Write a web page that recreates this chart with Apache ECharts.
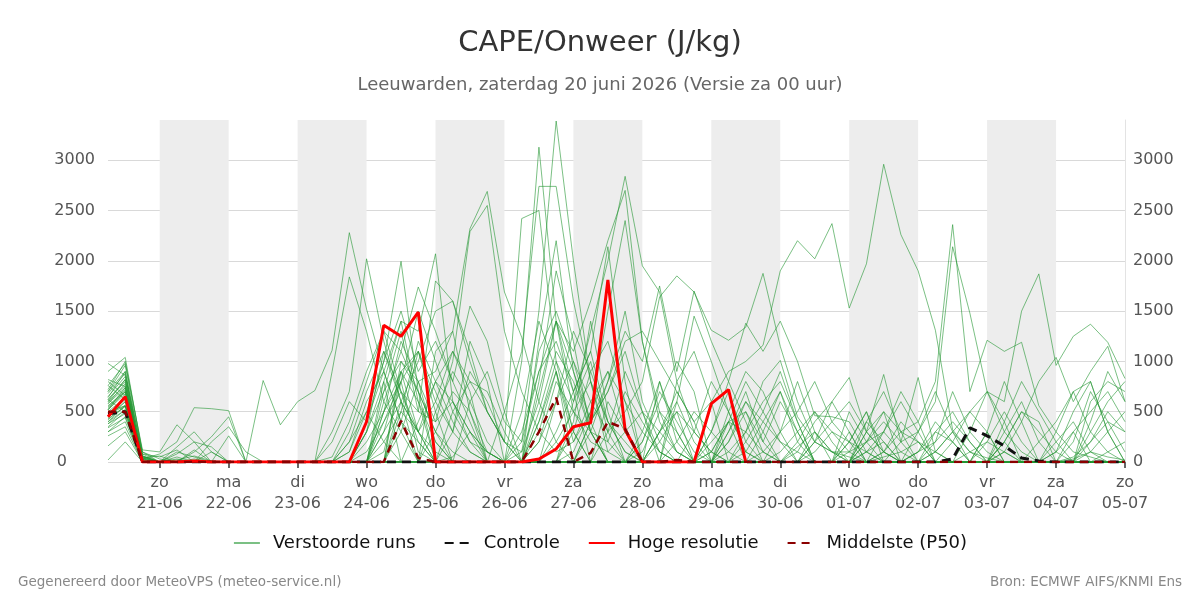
<!DOCTYPE html>
<html>
<head>
<meta charset="utf-8">
<title>CAPE/Onweer</title>
<script src="https://cdn.jsdelivr.net/npm/echarts@6/dist/echarts.min.js"></script>
<style>
  html, body { margin: 0; padding: 0; background: #fff; }
  #main { width: 1200px; height: 600px; }
</style>
</head>
<body>
<div id="main"></div>
<script>
// tijdstappen: elke 6 uur vanaf za 20-06 06:00 t/m zo 05-07 00:00 (60 stappen)
var tickLabels = ['zo\n21-06', 'ma\n22-06', 'di\n23-06', 'wo\n24-06', 'do\n25-06', 'vr\n26-06', 'za\n27-06',
    'zo\n28-06', 'ma\n29-06', 'di\n30-06', 'wo\n01-07', 'do\n02-07', 'vr\n03-07', 'za\n04-07', 'zo\n05-07'];
var times = [];
for (var i = 0; i < 60; i++) {
    var d = new Date(Date.UTC(2026, 5, 20, 6) + i * 6 * 3600 * 1000);
    times.push(('0' + d.getUTCDate()).slice(-2) + '-' + ('0' + (d.getUTCMonth() + 1)).slice(-2) + ' ' + ('0' + d.getUTCHours()).slice(-2));
}

// hoge resolutie (loopt tot 29-06 12:00)
var hires = [450,650,0, 0,0,10,0, 0,0,0,0, 0,0,0,0, 400,1360,1250,1490, 0,0,0,0, 0,0,30,130, 350,390,1810,320, 0,0,0,0, 580,720,0];
var control = [480,500,0, 0,0,0,0, 0,0,0,0, 0,0,0,0, 0,0,0,0, 0,0,0,0, 0,0,0,0, 0,0,0,0, 0,0,0,0, 0,0,0,0, 0,0,0,0, 0,0,0,0, 0,0,30,340, 260,160,40,10, 0,0,0,0, 0];
var median = [500,500,0, 0,0,0,0, 0,0,0,0, 0,0,0,0, 0,0,410,40, 0,0,0,0, 0,0,300,640, 0,90,400,330, 0,0,20,0, 0,0,0,0, 0,0,0,0, 0,0,0,0, 0,0,0,0, 0,0,0,0, 0,0,0,0, 0];

// verstoorde runs (ensemble leden)
var runs = [
    [620,800,40, 0,20,60,10, 0,0,0,0, 0,0,50,400, 900,1300,700,300, 600,1100,800,500, 200,100,600,1400, 900,400,700,1200, 1300,1000,700,400, 600,900,1000,1160, 1900,2200,2020,2370, 1530,1970,2960,2260, 1900,1310,320,100, 40,0,0,10, 0,30,100,50, 20],
    [450,600,0, 0,0,0,0, 0,0,0,0, 0,0,0,100, 500,200,0,0, 0,50,300,0, 0,0,200,800, 500,200,100,300, 500,300,100,0, 0,100,300,800, 1010,450,200,100, 50,0,100,300, 400,800,2360,700, 1210,1100,1190,560, 300,100,50,0, 0],
    [380,520,20, 0,0,30,0, 0,0,0,0, 0,0,0,0, 0,300,900,600, 200,0,0,0, 0,0,0,300, 700,1100,400,100, 0,0,200,500, 300,100,0,0, 0,0,200,400, 600,300,100,0, 0,100,300,500, 700,600,1500,1870, 960,1250,1370,1190, 830],
    [700,900,60, 0,100,50,0, 0,0,0,0, 0,0,0,0, 300,700,1000,800, 400,600,200,0, 0,0,0,0, 100,500,900,600, 300,100,0,0, 0,0,0,100, 300,500,800,400, 200,100,0,200, 300,600,2140,1480, 700,300,100,0, 0,0,0,100, 200],
    [560,700,80, 50,120,0,0, 0,0,0,0, 0,0,0,0, 0,200,500,1200, 800,400,100,0, 0,100,1100,1500, 1000,600,300,500, 800,1640,1850,1690, 1310,1210,1340,1875, 1150,600,200,100, 0,0,50,100, 200,100,0,0, 0,0,0,0, 100,300,500,700, 400],
    [480,620,40, 0,0,0,0, 0,0,0,0, 0,0,0,200, 700,1100,600,300, 100,0,0,0, 0,0,400,1000, 600,1300,2000,2840, 1950,1690,800,300, 100,0,0,0, 0,150,300,100, 100,200,300,100, 0,0,0,0, 0,0,0,0, 0,50,200,400, 300],
    [650,850,100, 0,80,200,150, 0,0,0,0, 0,0,200,600, 400,900,1400,1300, 2070,600,300,100, 0,0,0,200, 500,800,400,100, 0,0,0,0, 200,400,300,100, 0,0,0,0, 0,100,200,0, 0,0,0,0, 0,200,500,300, 100,0,0,0, 0],
    [520,680,30, 0,30,0,0, 0,0,0,0, 0,0,0,0, 0,0,300,800, 900,1300,2320,2690, 1690,1240,600,200, 0,0,0,0, 0,200,500,300, 100,0,0,0, 0,0,100,300, 200,0,0,0, 0,0,0,100, 200,100,0,0, 0,0,0,0, 0],
    [600,760,50, 0,0,0,0, 0,0,0,0, 0,0,0,0, 100,400,700,500, 400,1000,2290,2550, 1300,700,300,100, 200,500,1500,2400, 1200,500,100,0, 0,0,0,0, 0,0,0,0, 0,0,0,0, 100,300,200,0, 0,0,0,0, 0,0,100,300, 500],
    [400,560,20, 0,150,300,100, 0,0,0,0, 0,0,0,0, 200,500,900,1100, 600,300,100,0, 500,1100,2740,2740, 1600,800,200,0, 0,0,0,0, 0,300,600,400, 200,0,0,0, 0,0,0,0, 100,200,400,200, 0,0,0,0, 0,0,0,0, 0],
    [540,700,0, 0,0,0,0, 0,0,0,0, 0,0,0,0, 0,100,800,1500, 1000,500,200,100, 0,200,1500,3390, 2000,800,100,0, 0,0,0,0, 0,0,0,0, 100,300,500,200, 0,0,0,0, 0,0,0,0, 0,0,0,0, 0,0,0,0, 0],
    [580,740,60, 0,0,120,0, 260,0,0,0, 0,0,0,0, 0,600,1100,700, 300,100,0,0, 0,1000,3130,1400, 500,300,200,700, 400,100,0,0, 100,400,800,500, 200,100,0,0, 0,0,0,0, 0,0,0,0, 0,0,0,0, 0,0,0,0, 0],
    [300,400,0, 0,0,0,0, 0,0,810,370, 600,710,1110,2280, 1520,900,400,200, 0,0,0,0, 0,0,300,900, 200,600,900,300, 0,0,0,0, 0,0,0,0, 0,0,0,0, 0,0,0,0, 0,0,0,0, 0,0,0,0, 0,0,0,0, 0],
    [350,500,0, 0,0,0,0, 0,0,0,0, 0,0,900,1840, 1300,600,300,0, 0,0,0,0, 0,0,800,1900, 1200,300,0,0, 0,0,0,0, 0,0,0,0, 0,0,0,0, 0,200,400,200, 0,0,0,0, 0,0,0,0, 0,0,0,0, 0],
    [760,980,120, 100,370,200,0, 0,0,0,0, 0,0,300,700, 2020,1200,600,300, 0,0,0,0, 0,0,0,0, 0,0,0,0, 0,300,600,200, 0,0,0,0, 0,200,500,300, 100,0,0,0, 0,0,0,0, 0,300,600,200, 0,0,0,0, 0],
    [430,550,30, 80,200,540,530, 510,0,0,0, 0,0,0,0, 400,1000,1995,700, 300,0,0,0, 0,0,0,0, 0,0,0,0, 300,800,200,0, 0,0,100,400, 700,300,0,0, 0,0,0,0, 0,0,200,500, 300,0,0,0, 0,200,700,400, 100],
    [500,640,0, 0,0,0,0, 0,0,0,0, 0,0,0,300, 800,1300,1100,1740, 1300,800,400,0, 0,0,1200,2200, 900,300,0,0, 0,0,0,0, 0,200,600,300, 0,0,0,0, 0,400,700,300, 0,0,0,0, 0,0,0,0, 0,0,300,600, 800],
    [620,820,0, 0,0,0,0, 0,0,0,0, 0,0,0,0, 0,0,600,1000, 1500,1600,1100,500, 200,2420,2500,1000, 300,0,0,0, 0,300,700,400, 0,0,0,0, 0,0,300,100, 0,300,100,0, 0,0,0,0, 200,500,200,0, 0,0,0,0, 0],
    [550,720,0, 0,0,0,0, 0,0,0,0, 0,0,0,0, 0,0,0,400, 800,600,300,100, 0,0,700,1400, 1100,1600,2200,2700, 1200,400,100,0, 300,700,200,0, 0,0,0,0, 0,0,0,0, 0,100,300,100, 0,0,0,0, 100,500,800,300, 0],
    [440,600,0, 0,0,0,0, 0,0,0,0, 0,0,0,0, 0,500,1200,800, 200,0,0,0, 0,300,900,1400, 700,1100,2140,800, 0,0,600,1450, 1000,500,100,0, 0,0,0,0, 0,100,300,600, 300,0,0,0, 0,0,0,0, 0,0,0,0, 0],
    [680,880,0, 0,0,0,0, 0,0,0,0, 0,0,0,0, 0,0,0,0, 0,0,0,0, 0,0,0,0, 0,400,800,1300, 1000,1750,900,1700, 1200,800,400,0, 0,0,0,0, 200,500,0,0, 0,0,0,0, 0,400,800,500, 200,0,0,0, 0],
    [520,700,0, 0,0,0,0, 0,0,0,0, 0,0,0,0, 0,0,0,0, 0,0,0,0, 0,0,0,0, 0,0,0,0, 0,0,0,0, 300,800,1380,1100, 1400,1000,460,450, 400,100,0,0, 0,0,0,0, 0,0,0,0, 0,0,0,0, 0],
    [420,560,0, 0,0,0,0, 0,0,0,0, 0,0,0,0, 0,300,600,0, 0,0,0,0, 0,0,0,0, 0,0,0,0, 0,0,0,0, 0,0,0,0, 0,0,200,600, 840,300,870,200, 840,100,0,0, 300,800,400,0, 0,0,0,0, 0],
    [380,480,0, 0,0,0,0, 0,0,0,0, 0,0,0,0, 0,0,0,0, 0,0,0,0, 0,0,0,0, 0,0,0,0, 0,0,0,0, 0,200,500,100, 0,0,0,0, 100,400,200,0, 0,0,0,0, 0,100,400,800, 1040,600,900,1150, 600],
    [900,1040,80, 0,50,0,100, 0,0,0,0, 0,0,0,0, 0,0,400,1100, 700,300,900,600, 200,0,0,0, 0,0,600,300, 0,0,0,0, 100,400,0,0, 0,0,0,0, 0,300,500,0, 0,0,0,0, 0,200,0,0, 0,300,0,0, 0],
    [260,350,0, 0,0,100,250, 450,0,0,0, 0,0,0,0, 0,0,0,0, 500,900,600,200, 0,0,200,600, 1000,400,0,0, 0,800,300,0, 0,0,300,600, 800,400,0,0, 0,0,0,0, 0,0,0,0, 0,0,0,200, 400,700,300,100, 0],
    [460,640,0, 0,0,0,0, 0,0,0,0, 0,0,0,200, 500,1000,1500,900, 1200,800,1550,1200, 500,0,0,0, 0,300,800,1500, 600,200,0,0, 0,0,0,0, 0,0,0,0, 300,0,100,400, 200,0,0,0, 0,0,0,0, 0,0,0,0, 0],
    [700,960,40, 60,0,0,200, 350,100,0,0, 0,0,0,0, 0,700,1300,500, 1800,1600,1000,500, 200,0,400,900, 300,0,0,0, 100,500,300,0, 0,0,0,0, 0,0,0,0, 0,200,500,300, 200,0,0,0, 0,0,0,0, 0,0,200,500, 300],
    [340,440,0, 0,0,0,0, 0,0,0,0, 0,0,0,0, 0,0,0,0, 0,0,0,0, 0,0,0,0, 300,900,1200,600, 0,0,0,0, 0,0,0,0, 0,0,0,0, 0,0,0,0, 0,0,0,0, 0,0,0,0, 0,0,0,0, 0],
    [580,780,0, 0,0,0,0, 0,0,0,0, 0,0,0,0, 0,0,900,300, 0,0,0,0, 0,0,0,0, 0,0,0,0, 200,600,1000,700, 0,0,0,300, 700,200,0,0, 0,0,0,0, 0,0,0,0, 300,0,0,0, 0,0,600,800, 700],
    [500,560,20, 0,0,0,0, 0,0,0,0, 0,0,0,0, 300,1100,700,200, 0,0,0,0, 0,0,0,0, 0,0,0,0, 0,0,0,0, 0,400,500,200, 600,300,0,0, 0,0,0,0, 100,400,200,0, 0,100,0,0, 0,0,0,0, 0],
    [800,660,30, 0,0,0,0, 0,0,0,0, 0,0,0,0, 0,0,0,0, 0,500,800,700, 300,0,0,0, 0,0,0,0, 0,0,0,0, 0,0,0,0, 0,0,0,0, 0,0,0,0, 0,0,0,0, 0,0,0,0, 300,700,800,300, 0],
    [620,500,0, 0,0,0,0, 0,0,0,0, 0,0,0,0, 0,400,800,100, 0,0,0,0, 0,0,0,0, 0,0,0,0, 0,0,0,0, 0,0,0,0, 0,0,0,0, 200,500,100,0, 0,0,0,0, 0,0,0,0, 0,0,0,0, 0],
    [160,300,0, 0,0,0,0, 0,0,0,0, 0,0,0,0, 0,0,0,0, 0,0,0,0, 0,0,0,0, 400,1400,500,0, 0,0,0,0, 0,0,0,0, 0,0,0,0, 0,0,0,0, 0,0,0,0, 0,0,0,0, 0,0,0,0, 0],
    [20,200,0, 0,0,0,0, 0,0,0,0, 0,0,0,0, 0,800,1400,600, 0,0,0,0, 0,0,0,0, 0,0,0,0, 0,0,0,0, 0,0,0,0, 0,0,0,0, 0,0,0,0, 0,0,0,0, 0,0,0,0, 0,0,0,0, 0],
    [720,1000,100, 30,0,0,0, 0,0,0,0, 0,0,0,0, 0,0,0,0, 1100,1300,500,0, 0,0,0,0, 0,0,0,0, 0,0,0,0, 0,0,0,0, 0,0,0,0, 0,0,0,0, 0,0,0,0, 0,0,0,0, 0,0,0,0, 0],
    [760,620,50, 0,0,0,0, 0,0,0,0, 0,0,0,100, 600,900,400,0, 300,700,500,100, 0,0,500,1100, 800,300,0,0, 200,700,400,100, 0,300,700,200, 0,100,400,600, 300,0,0,0, 0,300,500,200, 0,0,0,0, 0,0,0,0, 0],
    [600,820,0, 0,0,0,0, 0,0,0,0, 0,0,0,0, 0,0,1000,700, 0,0,600,900, 400,200,900,1200, 700,0,300,900, 500,100,0,0, 0,0,0,0, 300,800,300,0, 0,0,0,0, 0,200,700,300, 100,0,0,0, 200,400,100,0, 0],
    [470,560,0, 0,0,0,0, 0,0,0,0, 0,0,0,0, 0,500,800,1100, 500,0,0,0, 0,0,0,600, 1300,900,400,200, 0,0,0,0, 0,500,900,700, 300,0,0,0, 0,0,0,0, 300,700,300,0, 0,200,500,400, 0,0,0,0, 0],
    [820,750,60, 0,0,0,0, 0,0,0,0, 0,0,0,0, 0,0,0,0, 0,300,1200,800, 0,0,0,0, 0,400,700,1100, 500,0,0,0, 0,0,200,500, 900,400,0,0, 0,0,300,700, 400,0,0,0, 0,0,0,0, 0,0,0,0, 0],
    [300,450,0, 0,0,0,0, 0,0,0,0, 0,0,0,0, 0,0,500,300, 800,1100,700,0, 0,0,0,0, 0,0,0,0, 0,0,800,1100, 600,0,0,0, 0,0,0,0, 0,0,0,0, 0,0,0,300, 700,400,0,0, 0,0,400,900, 600],
    [640,900,0, 0,0,0,0, 0,0,0,0, 0,0,0,0, 0,0,0,0, 0,0,0,0, 0,500,1400,900, 0,0,0,0, 0,0,0,300, 800,500,100,0, 0,0,0,0, 500,200,0,0, 0,0,0,0, 0,0,0,0, 0,0,0,0, 0],
    [520,740,0, 0,0,0,0, 0,0,0,0, 0,0,0,0, 300,800,0,0, 0,0,0,0, 0,0,0,0, 600,1000,300,0, 0,300,500,0, 0,0,0,0, 0,0,0,0, 0,0,0,0, 0,0,0,0, 0,0,0,0, 0,0,0,0, 0],
    [980,860,0, 0,0,0,0, 0,0,0,0, 0,0,0,0, 0,0,0,0, 0,0,0,0, 0,0,0,0, 0,0,0,0, 0,0,0,0, 0,0,0,0, 0,0,0,0, 0,0,0,0, 0,0,0,0, 0,0,0,0, 0,0,0,0, 0],
    [400,520,0, 0,0,0,0, 0,0,0,0, 0,0,0,0, 0,0,0,0, 0,0,0,0, 0,0,0,0, 0,0,0,0, 0,0,0,0, 0,0,0,0, 0,0,0,0, 0,0,0,0, 0,0,0,0, 0,0,0,0, 0,0,0,0, 0]
];
runs.forEach(function (r, k) {
    if (r.length !== times.length) throw new Error('run ' + k + ' heeft ' + r.length + ' waarden');
});

var FONT = '"DejaVu Sans", sans-serif';
var main = echarts.init(document.getElementById('main'));

// grijze banden: om de dag
var bands = [];
for (var k = 0; k < 14; k += 2) {
    bands.push([{ xAxis: times[3 + 4 * k] }, { xAxis: times[7 + 4 * k] }]);
}

var series = [{
    type: 'line',
    data: [],
    silent: true,
    z: -1,
    markArea: {
        silent: true,
        itemStyle: { color: '#ededed' },
        data: bands
    }
}];
runs.forEach(function (r) {
    series.push({
        name: 'Verstoorde runs',
        type: 'line',
        data: r,
        symbol: 'none',
        silent: true,
        lineStyle: { color: 'rgba(35, 150, 50, 0.6)', width: 1 },
        itemStyle: { color: 'rgba(35, 150, 50, 0.6)' }
    });
});
series.push({
    name: 'Controle',
    type: 'line',
    data: control,
    symbol: 'none',
    lineStyle: { color: '#111', width: 3, type: [9, 6] },
    itemStyle: { color: '#111' }
});
series.push({
    name: 'Hoge resolutie',
    type: 'line',
    data: hires,
    symbol: 'none',
    lineStyle: { color: '#ff0000', width: 3 },
    itemStyle: { color: '#ff0000' }
});
series.push({
    name: 'Middelste (P50)',
    type: 'line',
    data: median,
    symbol: 'none',
    lineStyle: { color: '#8b0000', width: 2.5, type: [8, 6] },
    itemStyle: { color: '#8b0000' }
});

var yAxisBase = {
    type: 'value',
    min: 0,
    max: 3400,
    interval: 500,
    axisTick: { show: false },
    splitLine: { show: true, showMaxLine: false, lineStyle: { color: '#d9d9d9', width: 1 } }
};
var yLabel = {
    color: '#555',
    fontSize: 16,
    fontFamily: FONT,
    showMaxLabel: false
};

var option = {
    animation: false,
    textStyle: { fontFamily: FONT },
    title: [{
        text: 'CAPE/Onweer (J/kg)',
        left: 'center',
        top: 24,
        textStyle: { fontSize: 29, fontWeight: 'normal', color: '#333', fontFamily: FONT }
    }, {
        text: 'Leeuwarden, zaterdag 20 juni 2026 (Versie za 00 uur)',
        left: 'center',
        top: 71,
        textStyle: { fontSize: 18, fontWeight: 'normal', color: '#666', fontFamily: FONT }
    }, {
        text: 'Gegenereerd door MeteoVPS (meteo-service.nl)',
        left: 13,
        top: 570,
        textStyle: { fontSize: 13.5, fontWeight: 'normal', color: '#888', fontFamily: FONT }
    }, {
        text: 'Bron: ECMWF AIFS/KNMI Ens',
        right: 13,
        top: 570,
        textStyle: { fontSize: 13.5, fontWeight: 'normal', color: '#888', fontFamily: FONT }
    }],
    legend: {
        data: ['Verstoorde runs', 'Controle', 'Hoge resolutie', 'Middelste (P50)'],
        left: 'center',
        top: 529,
        itemWidth: 26,
        itemHeight: 12,
        itemGap: 28,
        itemStyle: { opacity: 0 },
        textStyle: { fontSize: 18, color: '#111', fontFamily: FONT, padding: [0, 0, 0, 8] }
    },
    grid: { left: 108, right: 75, top: 120, bottom: 138 },
    xAxis: {
        type: 'category',
        data: times,
        boundaryGap: false,
        axisLine: { show: false },
        axisTick: {
            show: true,
            interval: function (idx) { return idx % 4 === 3; },
            length: 6,
            lineStyle: { color: '#666', width: 2 }
        },
        axisLabel: {
            interval: function (idx) { return idx % 4 === 3; },
            formatter: function (val, idx) { return tickLabels[(idx - 3) / 4]; },
            color: '#555',
            fontSize: 16,
            lineHeight: 21,
            margin: 10,
            fontFamily: FONT
        },
        splitLine: { show: false }
    },
    yAxis: [
        Object.assign({}, yAxisBase, {
            position: 'left',
            axisLine: { show: false },
            axisLabel: Object.assign({}, yLabel, {
                margin: 13,
                // de nul staat in het origineel verder naar links
                formatter: function (v) { return v === 0 ? '{z|0}' : String(v); },
                rich: { z: { color: '#555', fontSize: 16, fontFamily: FONT, padding: [0, 28, 0, 0] } }
            })
        }),
        Object.assign({}, yAxisBase, {
            position: 'right',
            axisLine: { show: true, lineStyle: { color: '#e3e3e3', width: 1 } },
            axisLabel: Object.assign({}, yLabel, {
                margin: 8,
                formatter: function (v) { return String(v); }
            }),
            splitLine: { show: false }
        })
    ],
    series: series
};

main.setOption(option);
</script>
</body>
</html>
